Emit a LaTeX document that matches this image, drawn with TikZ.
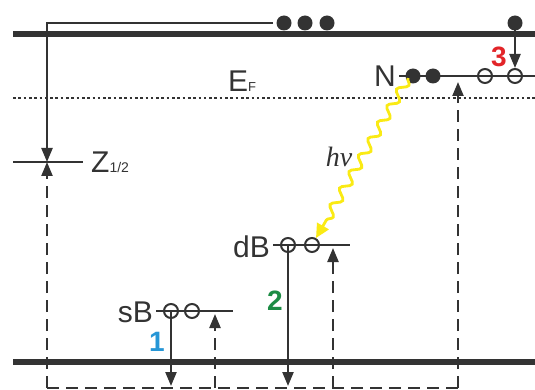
\documentclass[tikz,border=0pt]{standalone}
\usepackage{fontspec}
\setmainfont{Liberation Sans}
\newfontfamily\hvfont{Liberation Serif}
\usetikzlibrary{arrows.meta,decorations.pathmorphing}
\definecolor{dk}{RGB}{51,51,51}
\definecolor{numblue}{RGB}{38,150,214}
\definecolor{numgreen}{RGB}{28,140,68}
\definecolor{numred}{RGB}{226,36,40}
\definecolor{photon}{RGB}{250,234,20}
\begin{document}
\begin{tikzpicture}[x=1pt,y=-1pt,
  band/.style={line width=6pt, draw=dk},
  thinline/.style={line width=2.3pt, draw=dk},
  dashline/.style={line width=2.3pt, draw=dk, dash pattern=on 12pt off 7pt},
  tip/.style={-{Triangle[length=14pt,width=11pt]}},
  filled/.style={circle, fill=dk, minimum size=15pt, inner sep=0pt},
  hole/.style={circle, draw=dk, line width=2pt, minimum size=14pt, inner sep=0pt},
  lbl/.style={font=\fontsize{30}{30}\selectfont, text=dk, inner sep=0pt},
  num/.style={font=\fontsize{28}{28}\selectfont\bfseries, inner sep=0pt},
]
\useasboundingbox (0,0) rectangle (535,390);

% bands and Fermi level
\draw[band] (13,34) -- (535,34);
\draw[band] (13,362) -- (535,362);
\draw[dk, line width=2.6pt, dash pattern=on 2.6pt off 2.7pt] (13,98) -- (535,98);
\node[lbl, anchor=base west] (ef) at (228,92) {E{\fontsize{13}{13}\selectfont F}};

% Z1/2 level
\coordinate (zL) at (13,162);
\coordinate (zR) at (83,162);
\coordinate (zpt) at (47,162);
\draw[thinline] (zL) -- (zR);
\node[lbl, anchor=base west] (zlab) at (91,173) {Z{\fontsize{14}{14}\selectfont 1/2}};

% top electrons
\coordinate (tstart) at (273,23);
\node[filled] (c1) at (284,23) {};
\node[filled] (c2) at (305,23) {};
\node[filled] (c3) at (327,23) {};
\node[filled] (d4) at (515,23) {};
\draw[thinline, tip] (tstart) -| (zpt);

% N level
\coordinate (nL) at (399,76);
\coordinate (nR) at (535,76);
\draw[thinline] (nL) -- (nR);
\node[lbl, anchor=base east] (nlab) at (396,87) {N};
\node[filled] (n1) at (413,76) {};
\node[filled] (n2) at (433,76) {};
\node[hole] (h3) at (485,76) {};
\node[hole] (h4) at (515,76) {};
\draw[thinline, tip] (d4.center) -- (h4.north);
\node[num, text=numred] (three) at (499,57) {3};

% dB level
\coordinate (bL) at (273,245);
\coordinate (bR) at (350,245);
\draw[thinline] (bL) -- (bR);
\node[lbl, anchor=base east] (blab) at (270,257) {dB};
\node[hole] (b1) at (288,245) {};
\node[hole] (b2) at (312,245) {};
\coordinate (b1end) at (288,386);
\draw[thinline, tip] (b1.center) -- (b1end);
\node[num, text=numgreen] (two) at (275,301) {2};

% sB level
\coordinate (sL) at (156,311);
\coordinate (sR) at (233,311);
\draw[thinline] (sL) -- (sR);
\node[lbl, anchor=base east] (slab) at (153,322) {sB};
\node[hole] (s1) at (171,311) {};
\node[hole] (s2) at (192,311) {};
\coordinate (s1end) at (171,386);
\draw[thinline, tip] (s1.center) -- (s1end);
\node[num, text=numblue] (one) at (157,342) {1};

% dashed return paths
\coordinate (q0) at (47,388);
\coordinate (q1) at (215,388);
\coordinate (q2) at (333,388);
\coordinate (q3) at (458,388);
\coordinate (p1) at (215,314);
\coordinate (p2) at (333,248);
\coordinate (p3) at (458,82);
\draw[dashline] (q0) -- (q3);
\draw[dashline, tip] (q0) -- (zpt);
\draw[dashline, tip] (q1) -- (p1);
\draw[dashline, tip] (q2) -- (p2);
\draw[dashline, tip] (q3) -- (p3);

% photon
\coordinate (ph0) at (408,78);
\draw[photon, line width=2.8pt, decorate,
  decoration={snake, amplitude=4.5pt, segment length=19pt, post length=12pt},
  -{Triangle[length=14pt,width=13pt]}] (ph0) -- (b2.60);
\node[font=\hvfont\itshape\fontsize{28}{28}\selectfont, text=dk, inner sep=0pt] (hv) at (339,157) {hν};
\end{tikzpicture}
\end{document}
